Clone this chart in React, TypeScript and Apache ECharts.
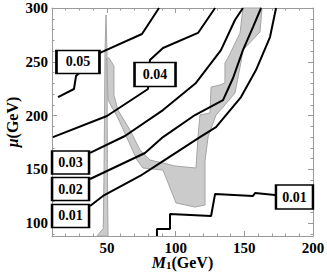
import React, { useEffect, useRef } from "react";
import * as echarts from "echarts";

// Contour lines (x = M1 in GeV, y = mu in GeV)
const contour05a = [[14.4, 217.2], [26.0, 224.7], [27.5, 236.8], [44.9, 258.2], [75.5, 275.8], [87.9, 300]];
const contour04 = [[10.7, 180.0], [50.0, 199.6], [79.9, 224.7], [81.3, 251.6], [90.8, 262.8], [116.3, 276.8], [128.7, 300]];
const contour03 = [[37.7, 165.2], [63.1, 181.0], [90.8, 205.1], [114.8, 230.3], [133.0, 260.9], [143.2, 288.8], [149.0, 300]];
const contour02 = [[37.7, 141.0], [77.7, 165.2], [90.8, 180.0], [114.1, 200.5], [134.5, 214.4], [141.8, 234.9], [149.0, 260.9], [156.3, 282.3], [162.2, 300]];
const contour01 = [[37.7, 115.9], [47.1, 125.2], [74.1, 143.8], [90.8, 157.7], [117.7, 180.0], [129.4, 189.3], [147.6, 217.2], [158.5, 242.3], [168.7, 273.0], [173.1, 300]];
const contour01b = [[86.4, 88], [86.4, 94.5], [95.9, 94.5], [95.9, 108.4], [125.8, 106.6], [128.7, 127.0], [156.3, 125.2], [157.8, 128.0], [172.3, 126.1], [186, 124.5]];

// Grey (excluded) regions
const greySpike = [[42.8, 88], [47.3, 95], [47.9, 150], [48.6, 260], [49.3, 293.5], [50.0, 260], [50.3, 150], [50.8, 88]];
const greyBand = [
  [50.0, 253.5], [50.8, 214.4], [58.0, 197.7], [65.3, 177.2], [71.9, 158.6], [76.2, 151.2], [90.8, 149.3],
  [100.3, 118.7], [114.1, 114.9], [121.4, 116.8], [121.4, 157.7], [123.6, 180.0], [129.4, 200.5],
  [135.9, 209.8], [143.2, 221.0], [147.6, 249.8], [149.0, 260.9], [161.4, 277.7], [162.9, 300], [149.0, 300],
  [146.9, 276.8], [138.1, 253.5], [135.9, 248.9], [135.9, 230.3], [132.3, 228.4], [125.8, 226.5],
  [125.0, 202.4], [117.7, 200.5], [116.3, 180.0], [114.8, 151.2], [99.5, 153.1], [90.8, 155.9],
  [81.3, 158.6], [74.1, 167.9], [66.8, 186.5], [58.0, 205.1], [55.1, 219.1], [55.1, 246.1], [51.5, 253.5],
];

// Contour labels
const labelTexts = ["0.05", "0.04", "0.03", "0.02", "0.01", "0.01"];
const labelAnchors = [[28.9, 249.8], [85.0, 238.2], [23.5, 156.3], [23.5, 131.7], [23.5, 106.6], [186.5, 124.2]];

// Ticks
const xMajor = [50, 100, 150, 200];
const xMinor = [20, 30, 40, 60, 70, 80, 90, 110, 120, 130, 140, 160, 170, 180, 190];
const yMajor = [100, 150, 200, 250, 300];
const yMinor = [90, 110, 120, 130, 140, 160, 170, 180, 190, 210, 220, 230, 240, 260, 270, 280, 290];

const labelBoxSizes = [[43, 23], [41, 24], [37, 23], [37, 23], [37, 23], [37, 24]];

export default function App() {
  const ref = useRef<HTMLDivElement>(null);
  useEffect(() => {
    if (!ref.current) return;
    const chart = echarts.init(ref.current, null, { renderer: "svg" });
    const frame = "#9a9a9a";
    const serif = "Liberation Serif";
    const tickFont = { fontFamily: serif, fontWeight: "bold" as const, fontSize: 15, color: "#000" };
    const xBase = { type: "value" as const, min: 10, max: 200, splitLine: { show: false } };
    const yBase = { type: "value" as const, min: 88, max: 300, splitLine: { show: false } };
    const polySeries = (poly: number[][]) => ({
      type: "custom",
      silent: true,
      z: 1,
      data: poly,
      renderItem: (params: any, api: any) => {
        if (params.dataIndex !== 0) return null;
        return {
          type: "polygon",
          shape: { points: poly.map((p) => api.coord(p)) },
          style: { fill: "#cbcbcb", stroke: "#a5a5a5", lineWidth: 1 },
        };
      },
    });
    const lineSeries = (d: number[][]) => ({
      type: "line",
      data: d,
      showSymbol: false,
      silent: true,
      z: 3,
      lineStyle: { color: "#000", width: 2 },
    });
    const nameRich = {
      i: { fontFamily: serif, fontStyle: "italic", fontWeight: "bold", fontSize: 16, color: "#000", lineHeight: 16 },
      n: { fontFamily: serif, fontWeight: "bold", fontSize: 16, color: "#000", lineHeight: 16 },
      s: { fontFamily: serif, fontWeight: "bold", fontSize: 11, color: "#000", lineHeight: 11, verticalAlign: "bottom" },
    };
    chart.setOption({
      animation: false,
      backgroundColor: "#fff",
      grid: { left: 52, right: 14, top: 8, bottom: 37, outerBoundsMode: "none", containLabel: false },
      xAxis: [
        {
          ...xBase,
          position: "bottom",
          axisLine: { show: true, lineStyle: { color: frame, width: 1 } },
          axisTick: { show: true, inside: true, length: 5, customValues: xMajor, lineStyle: { color: frame } },
          axisLabel: { ...tickFont, customValues: xMajor, margin: 4 },
          name: "{i|M}{s|1}{n|(GeV)}",
          nameLocation: "middle",
          nameGap: 18,
          nameMoveOverlap: false,
          nameTextStyle: { rich: nameRich, lineHeight: 16 },
        },
        {
          ...xBase,
          position: "bottom",
          axisLine: { show: false },
          axisTick: { show: true, inside: true, length: 2.5, customValues: xMinor, lineStyle: { color: frame } },
          axisLabel: { show: false },
        },
        {
          ...xBase,
          position: "top",
          axisLine: { show: true, lineStyle: { color: frame, width: 1 } },
          axisTick: { show: true, inside: true, length: 5, customValues: xMajor, lineStyle: { color: frame } },
          axisLabel: { show: false },
        },
        {
          ...xBase,
          position: "top",
          axisLine: { show: false },
          axisTick: { show: true, inside: true, length: 2.5, customValues: xMinor, lineStyle: { color: frame } },
          axisLabel: { show: false },
        },
      ],
      yAxis: [
        {
          ...yBase,
          position: "left",
          axisLine: { show: true, lineStyle: { color: frame, width: 1 } },
          axisTick: { show: true, inside: true, length: 5, customValues: yMajor, lineStyle: { color: frame } },
          axisLabel: { ...tickFont, customValues: yMajor, margin: 4 },
          name: "{i|μ}{n|(GeV)}",
          nameLocation: "middle",
          nameRotate: 90,
          nameGap: 32,
          nameMoveOverlap: false,
          nameTextStyle: { rich: nameRich, lineHeight: 16 },
        },
        {
          ...yBase,
          position: "left",
          axisLine: { show: false },
          axisTick: { show: true, inside: true, length: 2.5, customValues: yMinor, lineStyle: { color: frame } },
          axisLabel: { show: false },
        },
        {
          ...yBase,
          position: "right",
          axisLine: { show: true, lineStyle: { color: frame, width: 1 } },
          axisTick: { show: true, inside: true, length: 5, customValues: yMajor, lineStyle: { color: frame } },
          axisLabel: { show: false },
        },
        {
          ...yBase,
          position: "right",
          axisLine: { show: false },
          axisTick: { show: true, inside: true, length: 2.5, customValues: yMinor, lineStyle: { color: frame } },
          axisLabel: { show: false },
        },
      ],
      series: [
        polySeries(greySpike),
        polySeries(greyBand),
        lineSeries(contour05a),
        lineSeries(contour04),
        lineSeries(contour03),
        lineSeries(contour02),
        lineSeries(contour01),
        lineSeries(contour01b),
        {
          type: "scatter",
          silent: true,
          z: 5,
          symbol: "rect",
          data: labelTexts.map((t, i) => ({ value: labelAnchors[i], name: t, symbolSize: labelBoxSizes[i] })),
          itemStyle: { color: "#fff", borderColor: "#000", borderWidth: 2, opacity: 1 },
          label: {
            show: true,
            position: "inside",
            formatter: (p: any) => p.name,
            color: "#000",
            fontFamily: serif,
            fontWeight: "bold",
            fontSize: 14,
          },
        },
      ],
    });
    return () => chart.dispose();
  }, []);
  return <div ref={ref} style={{ position: "fixed", left: 0, top: 0, width: 327, height: 273 }} />;
}
